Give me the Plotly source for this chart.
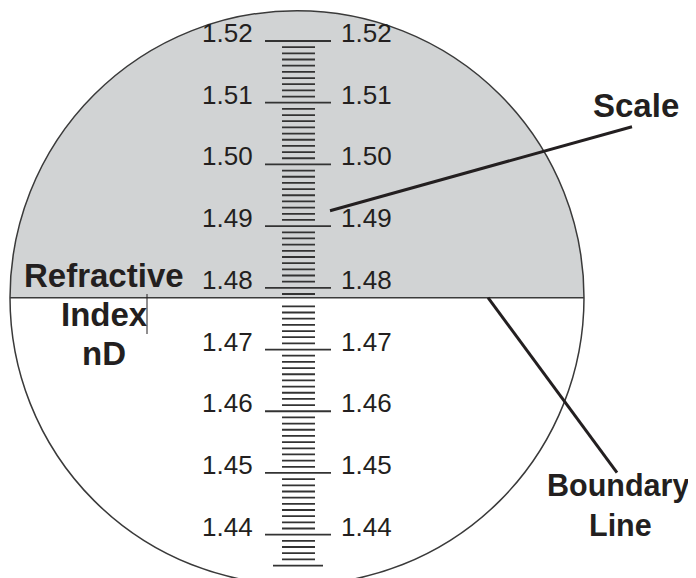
import numpy as np
import plotly.graph_objects as go

# ---- data: refractometer scale ----
major_nd = [1.52, 1.51, 1.50, 1.49, 1.48, 1.47, 1.46, 1.45, 1.44]
major_labels = ["1.52", "1.51", "1.50", "1.49", "1.48", "1.47", "1.46", "1.45", "1.44"]
minor_step_nd = 0.001
scale_end_nd = 1.435
boundary_nd = 1.4784          # reading where light/dark boundary crosses the scale

# ---- geometry (pixel <-> nD mapping of the eyepiece view) ----
OFF = 8                        # page body margin
W, H = 696 - OFF, 578 - OFF
PX_PER_ND = 6171.0


def nd(py):
    """convert a vertical page-pixel position to nD axis units"""
    return 1.52 - (py - 41) / PX_PER_ND


CX, R_PX = 297, 287
R_ND = R_PX / PX_PER_ND
INK = "#231f20"
GRAY = "#d1d3d4"

fig = go.Figure()

# shaded (dark) field above boundary
theta = np.linspace(0, np.pi, 300)
fig.add_trace(go.Scatter(
    x=CX + R_PX * np.cos(theta), y=boundary_nd + R_ND * np.sin(theta),
    fill="toself", fillcolor=GRAY, mode="lines", line=dict(width=0),
    hoverinfo="skip", showlegend=False))

# scale ticks
tx, ty = [], []
for v in major_nd:
    tx += [265, 331, None]
    ty += [v, v, None]
minor_vals = np.round(np.arange(major_nd[0], scale_end_nd, -minor_step_nd), 4)
for v in minor_vals:
    if any(abs(v - m) < 1e-6 for m in major_nd):
        continue
    if abs(v - boundary_nd) < 0.0005:
        continue
    tx += [282, 315, None]
    ty += [v, v, None]
tx += [273, 323, None]
ty += [scale_end_nd, scale_end_nd, None]
fig.add_trace(go.Scatter(x=tx, y=ty, mode="lines",
                         line=dict(color="#333333", width=1.8),
                         hoverinfo="skip", showlegend=False))

shapes = [
    dict(type="circle", xref="x", yref="y", x0=CX - R_PX, x1=CX + R_PX,
         y0=boundary_nd - R_ND, y1=boundary_nd + R_ND,
         line=dict(color="#3a3a3a", width=1.5)),
    dict(type="line", xref="x", yref="y", x0=CX - R_PX, x1=CX + R_PX,
         y0=boundary_nd, y1=boundary_nd, line=dict(color="#3a3a3a", width=1.5)),
    # leader lines
    dict(type="line", xref="x", yref="y", x0=330, y0=nd(210.7), x1=632, y1=nd(126.7),
         line=dict(color=INK, width=3)),
    dict(type="line", xref="x", yref="y", x0=488, y0=boundary_nd, x1=617, y1=nd(472.7),
         line=dict(color=INK, width=3)),
    dict(type="line", xref="x", yref="y", x0=147, y0=nd(294), x1=147, y1=nd(334),
         line=dict(color=INK, width=1)),
]

FAM = "Liberation Sans, Arial, Helvetica, sans-serif"
num_font = dict(family=FAM, size=26, color=INK)

ann = []
for v, t in zip(major_nd, major_labels):
    ann.append(dict(x=255, y=v, xref="x", yref="y", text=t, showarrow=False,
                    xanchor="right", yanchor="middle", yshift=8, font=num_font))
    ann.append(dict(x=339, y=v, xref="x", yref="y", text=t, showarrow=False,
                    xanchor="left", yanchor="middle", yshift=8, font=num_font))

labels = [("Scale", 635.5, 105, 33), ("Refractive", 104, 275.5, 33),
          ("Index", 104, 314.7, 33), ("nD", 104, 353, 33),
          ("Boundary", 617.5, 485, 30.5), ("Line", 620, 525, 30.5)]
for t, lx, ly, fs in labels:
    ann.append(dict(x=lx, y=nd(ly), xref="x", yref="y", text="<b>%s</b>" % t,
                    showarrow=False, xanchor="center", yanchor="middle",
                    font=dict(family=FAM, size=fs, color=INK)))

fig.update_layout(
    width=W, height=H, margin=dict(l=0, r=0, t=0, b=0),
    paper_bgcolor="white", plot_bgcolor="white",
    xaxis=dict(range=[OFF, 696], visible=False, fixedrange=True),
    yaxis=dict(range=[nd(578), nd(OFF)], visible=False, fixedrange=True),
    shapes=shapes, annotations=ann, showlegend=False,
)

fig.write_html("out.html")
